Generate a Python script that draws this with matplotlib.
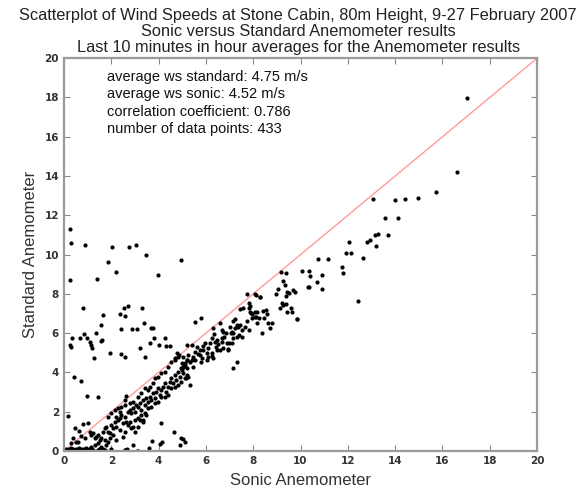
import matplotlib.pyplot as plt
import numpy as np

# sonic (x) vs standard (y) readings, by region

# points on y ~ 0 near the origin
x_floor = [0.05, 0.1, 0.15, 0.2, 0.25, 0.3, 0.35, 0.4, 0.45, 0.5, 0.55, 0.6,
           0.65, 0.7, 0.75, 0.8, 0.85, 0.9, 0.95, 1.0, 1.05, 1.1, 1.15, 1.2,
           1.3, 1.45, 1.5, 1.55, 1.6, 1.75, 2.0, 2.6, 2.65, 3.1]
y_floor = [0.05, 0.1, 0.0, 0.12, 0.05, 0.15, 0.0, 0.1, 0.05, 0.12, 0.0, 0.08,
           0.15, 0.05, 0.1, 0.0, 0.12, 0.05, 0.15, 0.0, 0.1, 0.05, 0.12, 0.08,
           0.0, 0.05, 0.12, 0.0, 0.1, 0.05, 0.08, 0.05, 0.12, 0.0]

# main band, sonic 0 - 5 m/s
x_low = [0.45, 0.63, 0.82, 1.01, 0.73, 0.38, 0.52, 0.31, 0.59, 0.87, 1.08, 1.16,
         1.23, 1.30, 1.37, 1.44, 1.51, 1.58, 1.65, 1.72, 1.79, 1.86, 1.93, 2.0,
         2.07, 2.14, 2.21, 2.28, 2.35, 2.42, 2.49, 2.56, 2.63, 2.70, 2.78, 2.85,
         2.92, 2.99, 3.06, 3.13, 3.20, 3.27, 3.34, 3.41, 3.48, 3.55, 3.62, 3.69,
         3.76, 3.83, 3.90, 3.97, 4.04, 4.11, 4.18, 4.25, 4.33, 4.40, 4.47, 4.54,
         4.61, 4.68, 4.75, 4.82, 4.89, 4.96, 5.03, 5.10, 5.17, 1.86, 2.0, 2.14,
         2.28, 2.42, 2.56, 2.63, 2.78, 2.92, 3.13, 3.27, 3.41, 3.55, 3.62, 3.76,
         3.83, 3.97, 4.11, 4.25, 4.40, 4.54, 4.68, 4.82, 2.56, 2.35, 2.21, 2.07,
         2.35, 2.49, 2.21, 2.70, 2.85, 2.99, 3.13, 3.27, 3.41, 3.55, 3.69, 3.83,
         3.97, 4.11, 4.25, 4.40, 4.54, 4.68, 4.82, 4.96, 1.44, 1.58, 1.72, 1.86,
         1.93, 1.51, 1.65, 1.16, 1.30, 1.79, 2.56, 2.78, 2.92, 3.34, 3.48, 2.99,
         3.13, 3.20]
y_low = [1.19, 1.02, 1.36, 1.44, 0.76, 0.64, 0.47, 0.39, 0.44, 0.64, 0.98, 0.81,
         0.90, 0.64, 0.73, 0.81, 0.56, 0.64, 0.98, 1.15, 1.24, 0.98, 0.90, 1.32,
         1.15, 1.49, 1.75, 1.58, 1.66, 1.83, 1.41, 1.75, 1.49, 1.97, 2.08, 1.92,
         2.17, 2.00, 2.34, 2.25, 2.42, 2.08, 2.59, 2.34, 2.68, 2.51, 2.76, 2.59,
         2.93, 2.68, 3.02, 3.19, 2.85, 3.10, 3.27, 3.44, 3.02, 3.27, 3.53, 3.70,
         3.44, 3.87, 3.61, 4.04, 3.78, 4.20, 3.95, 4.37, 3.70, 1.75, 1.92, 2.08,
         2.17, 2.25, 2.59, 2.81, 2.42, 2.51, 2.76, 2.93, 3.19, 3.10, 3.27, 3.44,
         3.70, 3.78, 3.95, 4.04, 4.29, 4.54, 4.71, 4.80, 2.34, 2.00, 1.24, 0.81,
         1.07, 0.73, 0.56, 1.32, 1.15, 1.58, 1.66, 1.83, 1.92, 2.17, 2.25, 2.42,
         2.51, 2.76, 2.76, 2.85, 3.19, 3.27, 3.36, 3.53, 0.39, 0.22, 0.56, 0.47,
         0.64, 0.05, 0.10, 0.22, 0.30, 0.30, 0.98, 1.49, 1.24, 1.58, 1.83, 0.95,
         1.24, 1.58]

# main band, sonic 5 - 8 m/s
x_mid = [5.05, 4.97, 5.19, 5.05, 5.26, 5.19, 5.40, 5.47, 5.54, 5.68, 5.61, 5.75,
         5.86, 5.96, 6.03, 6.10, 5.82, 5.80, 6.31, 5.05, 4.97, 5.19, 5.40, 6.10,
         6.27, 6.43, 6.53, 6.60, 6.17, 6.25, 6.46, 6.67, 6.77, 6.88, 7.09, 6.95,
         6.31, 6.36, 6.67, 6.74, 6.85, 7.05, 7.16, 6.60, 7.02, 7.09, 7.23, 7.30,
         7.41, 7.51, 7.23, 7.16, 7.44, 7.37, 7.51, 7.80, 7.72, 7.65, 5.33, 5.13,
         5.25, 5.55, 5.78, 7.16, 7.30, 6.38, 6.67, 6.46, 6.74, 6.95, 6.99, 7.16,
         7.30, 6.03, 6.25, 5.75, 5.89, 5.54, 5.33, 5.12, 5.19, 5.47, 5.19, 5.07,
         7.44, 7.58, 7.80, 7.80, 7.90, 8.08, 8.12, 7.94]
y_mid = [4.80, 4.49, 4.63, 4.26, 4.89, 5.40, 5.40, 4.80, 5.05, 4.92, 5.31, 5.14,
         5.34, 5.48, 5.00, 4.80, 4.72, 4.55, 4.72, 4.26, 4.12, 4.63, 4.63, 5.23,
         4.97, 5.31, 5.45, 5.14, 5.48, 5.74, 5.65, 5.74, 5.78, 5.48, 5.48, 5.18,
         6.24, 5.95, 6.16, 6.07, 5.99, 5.99, 6.00, 6.50, 6.33, 6.07, 6.24, 6.41,
         5.90, 5.82, 6.70, 6.60, 6.41, 6.33, 6.16, 6.16, 6.60, 6.33, 3.34, 3.70,
         3.78, 6.55, 6.75, 4.24, 4.55, 5.56, 5.56, 5.14, 5.23, 5.14, 5.48, 5.74,
         5.82, 4.63, 4.83, 4.89, 5.14, 4.63, 4.55, 4.46, 4.21, 4.29, 3.87, 4.33,
         7.21, 7.26, 7.55, 7.30, 7.04, 7.09, 6.83, 6.75]

# main band, sonic 8 - 17 m/s
x_high = [9.16, 9.37, 9.27, 9.34, 10.37, 10.90, 8.95, 9.03, 9.44, 9.51, 9.39, 9.70,
          9.77, 8.12, 8.29, 9.20, 9.27, 9.37, 9.13, 9.58, 9.41, 9.63, 9.84, 7.86,
          7.86, 7.93, 8.15, 8.43, 8.54, 8.57, 8.08, 8.26, 8.47, 8.15, 8.64, 8.78,
          8.71, 8.36, 10.05, 10.37, 10.40, 10.71, 10.92, 10.72, 11.18, 11.74, 11.81, 11.91,
          12.15, 12.05, 12.63, 12.83, 12.94, 13.15, 13.29, 13.68, 13.18, 13.05, 14.00, 13.57,
          14.11, 12.44, 14.42, 14.98, 15.72, 16.60, 17.05, 7.72, 8.08, 8.29, 10.33, 9.86]
y_high = [9.13, 9.08, 8.65, 8.45, 8.33, 8.23, 7.97, 8.23, 8.11, 8.02, 7.90, 8.19,
          8.11, 7.93, 7.85, 7.51, 7.42, 7.47, 7.26, 7.29, 7.09, 7.09, 6.72, 7.38,
          7.09, 7.00, 7.09, 7.14, 7.18, 7.00, 6.84, 6.75, 6.75, 6.50, 6.50, 6.50,
          6.24, 5.99, 9.18, 9.18, 8.90, 8.60, 8.96, 9.75, 9.80, 9.35, 9.04, 10.06,
          10.06, 10.62, 9.84, 10.65, 10.74, 10.98, 11.03, 11.00, 10.45, 12.83, 12.77, 11.87,
          11.87, 7.63, 12.81, 12.86, 13.20, 14.21, 17.95, 7.97, 7.97, 7.82, 8.33, 6.73]

# points well above the band (standard high, sonic low)
x_above = [0.25, 0.28, 0.87, 2.03, 2.73, 3.03, 3.47, 4.93, 1.86, 2.20, 3.97, 0.25,
           1.40, 0.79, 1.65, 2.52, 2.69, 3.31, 2.37, 2.58, 1.57, 3.38, 3.75, 2.88,
           3.07, 2.40, 0.35, 0.25, 0.30, 0.68, 0.85, 0.99, 1.10, 1.15, 1.20, 1.26,
           1.55, 1.60, 1.34, 1.93, 2.42, 2.60, 3.23, 3.44, 3.64, 3.69, 3.82, 4.02,
           4.30, 4.50, 4.26, 0.42, 0.70, 0.97, 1.42, 0.17, 4.86, 4.70, 4.79]
y_above = [11.30, 10.60, 10.50, 10.40, 10.40, 10.50, 10.00, 9.70, 9.60, 9.10, 8.95, 8.70,
           8.75, 7.28, 6.90, 7.30, 7.38, 7.30, 6.97, 6.87, 6.41, 6.50, 6.28, 6.20,
           6.20, 6.20, 5.77, 5.40, 5.30, 5.77, 5.95, 5.77, 5.56, 5.40, 5.25, 4.73,
           5.60, 5.65, 6.00, 4.98, 4.94, 4.80, 5.26, 4.80, 5.48, 6.25, 5.77, 5.40,
           5.36, 5.36, 5.77, 3.78, 3.56, 2.82, 2.77, 1.80, 4.89, 4.63, 4.97]

# points well below the band (standard low)
x_below = [4.10, 4.64, 4.95, 5.10, 3.34, 4.06, 3.58, 3.13, 2.56, 2.92, 1.54, 3.70,
           5.02, 4.90, 4.13]
y_below = [1.42, 0.98, 0.66, 0.46, 1.49, 0.36, 0.15, 0.00, 0.05, 0.30, 0.05, 0.52,
           0.60, 0.30, 0.46]

sonic = x_floor + x_low + x_mid + x_high + x_above + x_below
standard = y_floor + y_low + y_mid + y_high + y_above + y_below

stats = [
    "average ws standard: 4.75 m/s",
    "average ws sonic: 4.52 m/s",
    "correlation coefficient: 0.786",
    "number of data points: 433",
]

plt.rcParams['font.family'] = ['Liberation Sans', 'DejaVu Sans']

fig = plt.figure(figsize=(5.87, 4.91), dpi=100)
ax = fig.add_axes([0.109, 0.0815, 0.806, 0.8])

ax.plot([0, 20], [0, 20], color='#ff9a9a', lw=1.0, zorder=1)
ax.plot(sonic, standard, ls='none', marker='o', ms=2.0, color='black', zorder=2)

ax.set_xlim(0, 20)
ax.set_ylim(0, 20)
ax.set_xticks(np.arange(0, 21, 2))
ax.set_yticks(np.arange(0, 21, 2))
ax.tick_params(direction='in', top=True, right=True, length=4, width=0.8,
               colors='#888888', labelcolor='#333333', labelsize=7.5)
for lab in ax.get_xticklabels() + ax.get_yticklabels():
    lab.set_fontweight('bold')
    lab.set_family('DejaVu Sans')
for sp in ax.spines.values():
    sp.set_color('#9a9a9a')
    sp.set_linewidth(1.6)

ax.set_xlabel('Sonic Anemometer', fontsize=12, color='#333333', labelpad=5)
ax.set_ylabel('Standard Anemometer', fontsize=12, color='#333333', labelpad=5)

ax.text(0.495, 1.008,
        "Scatterplot of Wind Speeds at Stone Cabin, 80m Height, 9-27 February 2007\n"
        "Sonic versus Standard Anemometer results\n"
        "Last 10 minutes in hour averages for the Anemometer results",
        transform=ax.transAxes, ha='center', va='bottom', fontsize=11.8,
        linespacing=1.08, color='#222222')

ax.text(0.09, 0.97, "\n".join(stats), transform=ax.transAxes, ha='left', va='top',
        fontsize=10.5, linespacing=1.3, color='#111111')

fig.savefig('out.png', dpi=100)
